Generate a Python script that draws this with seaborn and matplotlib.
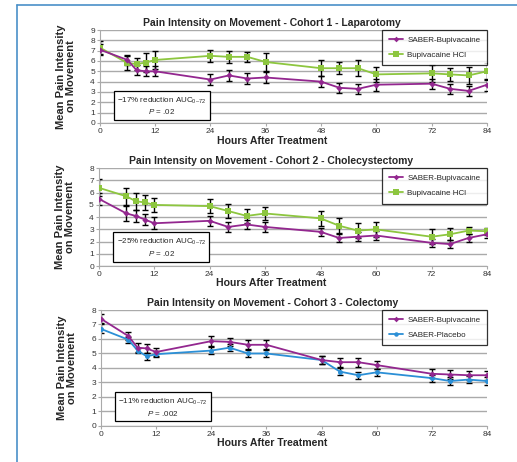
import numpy as np
import pandas as pd
import matplotlib
matplotlib.use("Agg")
import matplotlib.pyplot as plt
import seaborn as sns
from matplotlib.lines import Line2D

hours = [0, 6, 8, 10, 12, 24, 28, 32, 36, 48, 52, 56, 60, 72, 76, 80, 84]

# cohort 1 - laparotomy
c1_saber = [7.1, 6.1, 5.1, 5.0, 5.0, 4.2, 4.6, 4.3, 4.4, 4.0, 3.4, 3.3, 3.7, 3.8, 3.3, 3.1, 3.7]
c1_saber_err = [0.5, 0.5, 0.5, 0.5, 0.5, 0.5, 0.5, 0.5, 0.5, 0.5, 0.5, 0.5, 0.6, 0.5, 0.5, 0.5, 0.6]
c1_hcl = [7.3, 5.8, 5.7, 5.85, 6.1, 6.5, 6.4, 6.4, 5.9, 5.3, 5.3, 5.3, 4.7, 4.8, 4.7, 4.6, 5.0]
c1_hcl_err = [0.6, 0.7, 0.6, 0.9, 0.9, 0.6, 0.6, 0.5, 0.9, 0.8, 0.6, 0.8, 0.7, 0.8, 0.6, 0.8, 0.8]

# cohort 2 - cholecystectomy
c2_saber = [5.5, 4.3, 4.1, 3.8, 3.5, 3.7, 3.2, 3.4, 3.2, 2.8, 2.3, 2.4, 2.5, 1.9, 1.8, 2.3, 2.6]
c2_saber_err = [0.5, 0.6, 0.5, 0.45, 0.5, 0.4, 0.4, 0.4, 0.4, 0.3, 0.35, 0.35, 0.4, 0.3, 0.35, 0.35, 0.3]
c2_hcl = [6.4, 5.7, 5.3, 5.2, 5.0, 4.9, 4.5, 4.1, 4.3, 3.9, 3.3, 2.9, 3.0, 2.4, 2.6, 2.9, 2.85]
c2_hcl_err = [0.7, 0.7, 0.7, 0.6, 0.6, 0.6, 0.6, 0.6, 0.5, 0.6, 0.6, 0.6, 0.6, 0.6, 0.5, 0.3, 0.3]

# cohort 3 - colectomy
c3_saber = [7.4, 6.2, 5.4, 5.35, 5.1, 5.85, 5.8, 5.6, 5.6, 4.55, 4.4, 4.4, 4.2, 3.6, 3.55, 3.5, 3.5]
c3_saber_err = [0.3, 0.3, 0.3, 0.3, 0.3, 0.35, 0.3, 0.3, 0.3, 0.3, 0.3, 0.3, 0.3, 0.3, 0.3, 0.3, 0.3]
c3_placebo = [6.7, 5.95, 5.2, 4.8, 4.95, 5.2, 5.4, 5.0, 5.0, 4.55, 3.75, 3.5, 3.7, 3.3, 3.1, 3.2, 3.1]
c3_placebo_err = [0.3, 0.2, 0.2, 0.25, 0.2, 0.25, 0.25, 0.25, 0.25, 0.25, 0.25, 0.25, 0.25, 0.25, 0.25, 0.25, 0.25]

titles = [
    "Pain Intensity on Movement - Cohort 1 - Laparotomy",
    "Pain Intensity on Movement - Cohort 2 - Cholecystectomy",
    "Pain Intensity on Movement - Cohort 3 - Colectomy",
]
notes = [
    ("\u221217% reduction AUC$_{0\u201372}$", "$P$ = .02"),
    ("\u221225% reduction AUC$_{0\u201372}$", "$P$ = .02"),
    ("\u221211% reduction AUC$_{0\u201372}$", "$P$ = .002"),
]
y_max = [9, 8, 8]
note_y = [1.65, 1.5, 1.3]
xlabel_y = [-0.19, -0.175, -0.145]

PURPLE = "#93278f"
GREEN = "#8dc63f"
BLUE = "#2b8fd6"

sns.set_theme(style="white")
plt.rcParams["font.family"] = ["Liberation Sans", "DejaVu Sans"]
plt.rcParams["mathtext.fontset"] = "custom"
plt.rcParams["mathtext.rm"] = "Liberation Sans"
plt.rcParams["mathtext.it"] = "Liberation Sans:italic"

fig = plt.figure(figsize=(5.17, 4.62), dpi=100)
boxes = [
    [0.193, 0.734, 0.749, 0.201],
    [0.191, 0.424, 0.751, 0.212],
    [0.195, 0.078, 0.747, 0.251],
]

series = [
    [("SABER-Bupivacaine", c1_saber, c1_saber_err, PURPLE, "D", 3.2),
     ("Bupivacaine HCl", c1_hcl, c1_hcl_err, GREEN, "s", 5.0)],
    [("SABER-Bupivacaine", c2_saber, c2_saber_err, PURPLE, "D", 3.2),
     ("Bupivacaine HCl", c2_hcl, c2_hcl_err, GREEN, "s", 5.0)],
    [("SABER-Bupivacaine", c3_saber, c3_saber_err, PURPLE, "D", 3.2),
     ("SABER-Placebo", c3_placebo, c3_placebo_err, BLUE, "o", 3.6)],
]

for i in range(3):
    ax = fig.add_axes(boxes[i])
    rows = []
    for name, vals, errs, col, mk, ms in series[i]:
        for h, v in zip(hours, vals):
            rows.append({"hours": h, "pain": v, "group": name})
    df = pd.DataFrame(rows)
    order = [s[0] for s in series[i]]
    # error bars first so lines sit on top
    for name, vals, errs, col, mk, ms in series[i]:
        ax.errorbar(hours, vals, yerr=errs, fmt="none", ecolor="black",
                    elinewidth=1.0, capsize=2.5, capthick=1.0, zorder=2)
    for name, vals, errs, col, mk, ms in reversed(series[i]):
        sub = df[df["group"] == name]
        sns.lineplot(data=sub, x="hours", y="pain", ax=ax, color=col,
                     marker=mk, markersize=ms, markeredgewidth=0,
                     linewidth=1.3, zorder=3, legend=False)

    ax.set_xlim(0, 84)
    ax.set_ylim(0, y_max[i])
    ax.set_xticks(range(0, 85, 12))
    ax.set_yticks(range(0, y_max[i] + 1))
    ax.yaxis.grid(True, color="#aaaaaa", linewidth=1.0)
    ax.set_axisbelow(True)
    for s in ["top", "right"]:
        ax.spines[s].set_visible(False)
    for s in ["left", "bottom"]:
        ax.spines[s].set_color("#aaaaaa")
        ax.spines[s].set_linewidth(0.8)
    ax.tick_params(axis="both", which="both", labelsize=6, colors="#aaaaaa",
                   labelcolor="#333333", length=2.5, width=0.8, pad=1,
                   bottom=True, left=True, direction="out")
    ax.set_title(titles[i], fontsize=7.5, fontweight="bold", pad=3, x=0.445)
    ax.set_xlabel("Hours After Treatment", fontsize=7.6, fontweight="bold",
                  va="center")
    ax.xaxis.set_label_coords(0.445, xlabel_y[i])
    ax.set_ylabel("Mean Pain Intensity\non Movement", fontsize=8,
                  fontweight="bold", labelpad=10, linespacing=1.0)

    handles = [Line2D([], [], color=s[3], marker=s[4], markersize=s[5] * 0.9,
                      markeredgewidth=0, linewidth=1.3) for s in series[i]]
    leg = ax.legend(handles, order, loc="upper right", fontsize=5.8,
                    frameon=True, fancybox=False, borderaxespad=0.0,
                    handlelength=1.8, borderpad=0.8, labelspacing=0.9,
                    handletextpad=0.5)
    leg.get_frame().set_edgecolor("black")
    leg.get_frame().set_linewidth(0.9)

    ax.text(13.5, note_y[i], notes[i][0] + "\n" + notes[i][1],
            transform=ax.transData, ha="center", va="center", fontsize=5.8,
            linespacing=1.25,
            bbox=dict(boxstyle="square,pad=0.45", facecolor="white",
                      edgecolor="black", linewidth=0.9), zorder=5)

# blue frame around the figure (left and top)
fig.add_artist(Line2D([0.033, 0.033], [0.0, 0.989], transform=fig.transFigure,
                      color="#4a90c8", linewidth=1.2))
fig.add_artist(Line2D([0.033, 1.0], [0.989, 0.989], transform=fig.transFigure,
                      color="#4a90c8", linewidth=1.2))

fig.savefig("out.png", dpi=100)
